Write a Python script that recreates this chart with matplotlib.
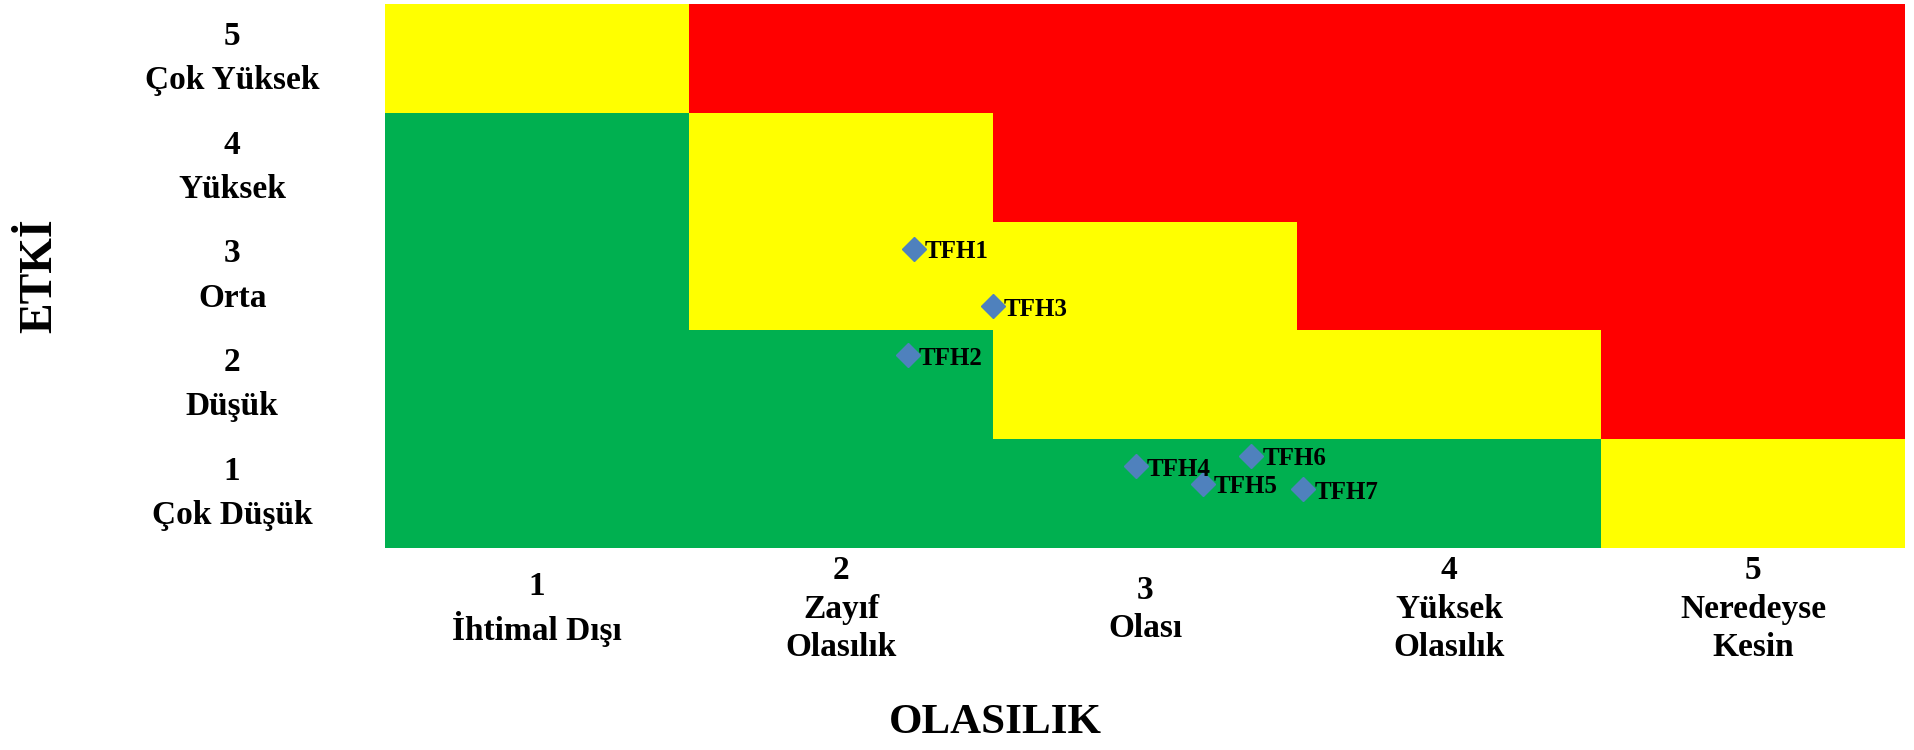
"""Risk matrix (OLASILIK x ETKİ) with TFH hazards placed on it."""

import matplotlib
matplotlib.use('Agg')
import matplotlib.pyplot as plt
from matplotlib.colors import ListedColormap
import numpy as np

plt.rcParams['font.family'] = ['Liberation Serif', 'DejaVu Serif']
plt.rcParams['font.weight'] = 'bold'

# Axis categories
prob_labels = ["1\nİhtimal Dışı", "2\nZayıf\nOlasılık", "3\nOlası",
               "4\nYüksek\nOlasılık", "5\nNeredeyse\nKesin"]
impact_labels = ["1\nÇok Düşük", "2\nDüşük", "3\nOrta", "4\nYüksek",
                 "5\nÇok Yüksek"]

# Risk level per cell: rows = impact 1..5, cols = probability 1..5
# 0 = low (green), 1 = medium (yellow), 2 = high (red)
risk_levels = np.array([
    [0, 0, 0, 0, 1],
    [0, 0, 1, 1, 2],
    [0, 1, 1, 2, 2],
    [0, 1, 2, 2, 2],
    [1, 2, 2, 2, 2],
])

# Hazards
hazard_names = ["TFH1", "TFH2", "TFH3", "TFH4", "TFH5", "TFH6", "TFH7"]
hazard_prob = [2.24, 2.22, 2.50, 2.97, 3.19, 3.35, 3.52]
hazard_impact = [3.25, 2.27, 2.72, 1.25, 1.09, 1.35, 1.04]


def main():
    fig = plt.figure(figsize=(19.15, 7.5), dpi=100)
    ax = fig.add_axes([0.201, 0.2693, 0.7938, 0.7254])

    cmap = ListedColormap(['#00B050', '#FFFF00', '#FF0000'])
    edges = np.arange(0.5, 6.0, 1.0)
    ax.pcolormesh(edges, edges, risk_levels, cmap=cmap, vmin=-0.5, vmax=2.5)

    ax.plot(hazard_prob, hazard_impact, linestyle='none', marker='D',
            markersize=12, color='#4F81BD', zorder=3)
    for name, x, y in zip(hazard_names, hazard_prob, hazard_impact):
        ax.annotate(name, (x, y), xytext=(8, -2), textcoords='offset points',
                    ha='left', va='center', fontsize=18, fontweight='bold',
                    color='black', zorder=4)

    ax.set_xlim(0.5, 5.5)
    ax.set_ylim(0.5, 5.5)
    ax.set_xticks(range(1, 6))
    ax.set_yticks(range(1, 6))
    ax.set_xticklabels(prob_labels, fontsize=24, fontweight='bold',
                       va='center', linespacing=1.3)
    ax.set_yticklabels(impact_labels, fontsize=24, fontweight='bold',
                       ha='center', va='center', linespacing=1.55)
    ax.tick_params(axis='x', length=0, pad=44)
    ax.tick_params(axis='y', length=0, pad=110)
    for s in ax.spines.values():
        s.set_visible(False)

    fig.text(0.021, 0.632, "ETKİ", rotation=90, ha='center', va='center',
             fontsize=33, fontweight='bold')
    fig.text(0.52, 0.036, "OLASILIK", ha='center', va='center',
             fontsize=31, fontweight='bold')

    fig.savefig("out.png", dpi=100)


if __name__ == "__main__":
    main()
